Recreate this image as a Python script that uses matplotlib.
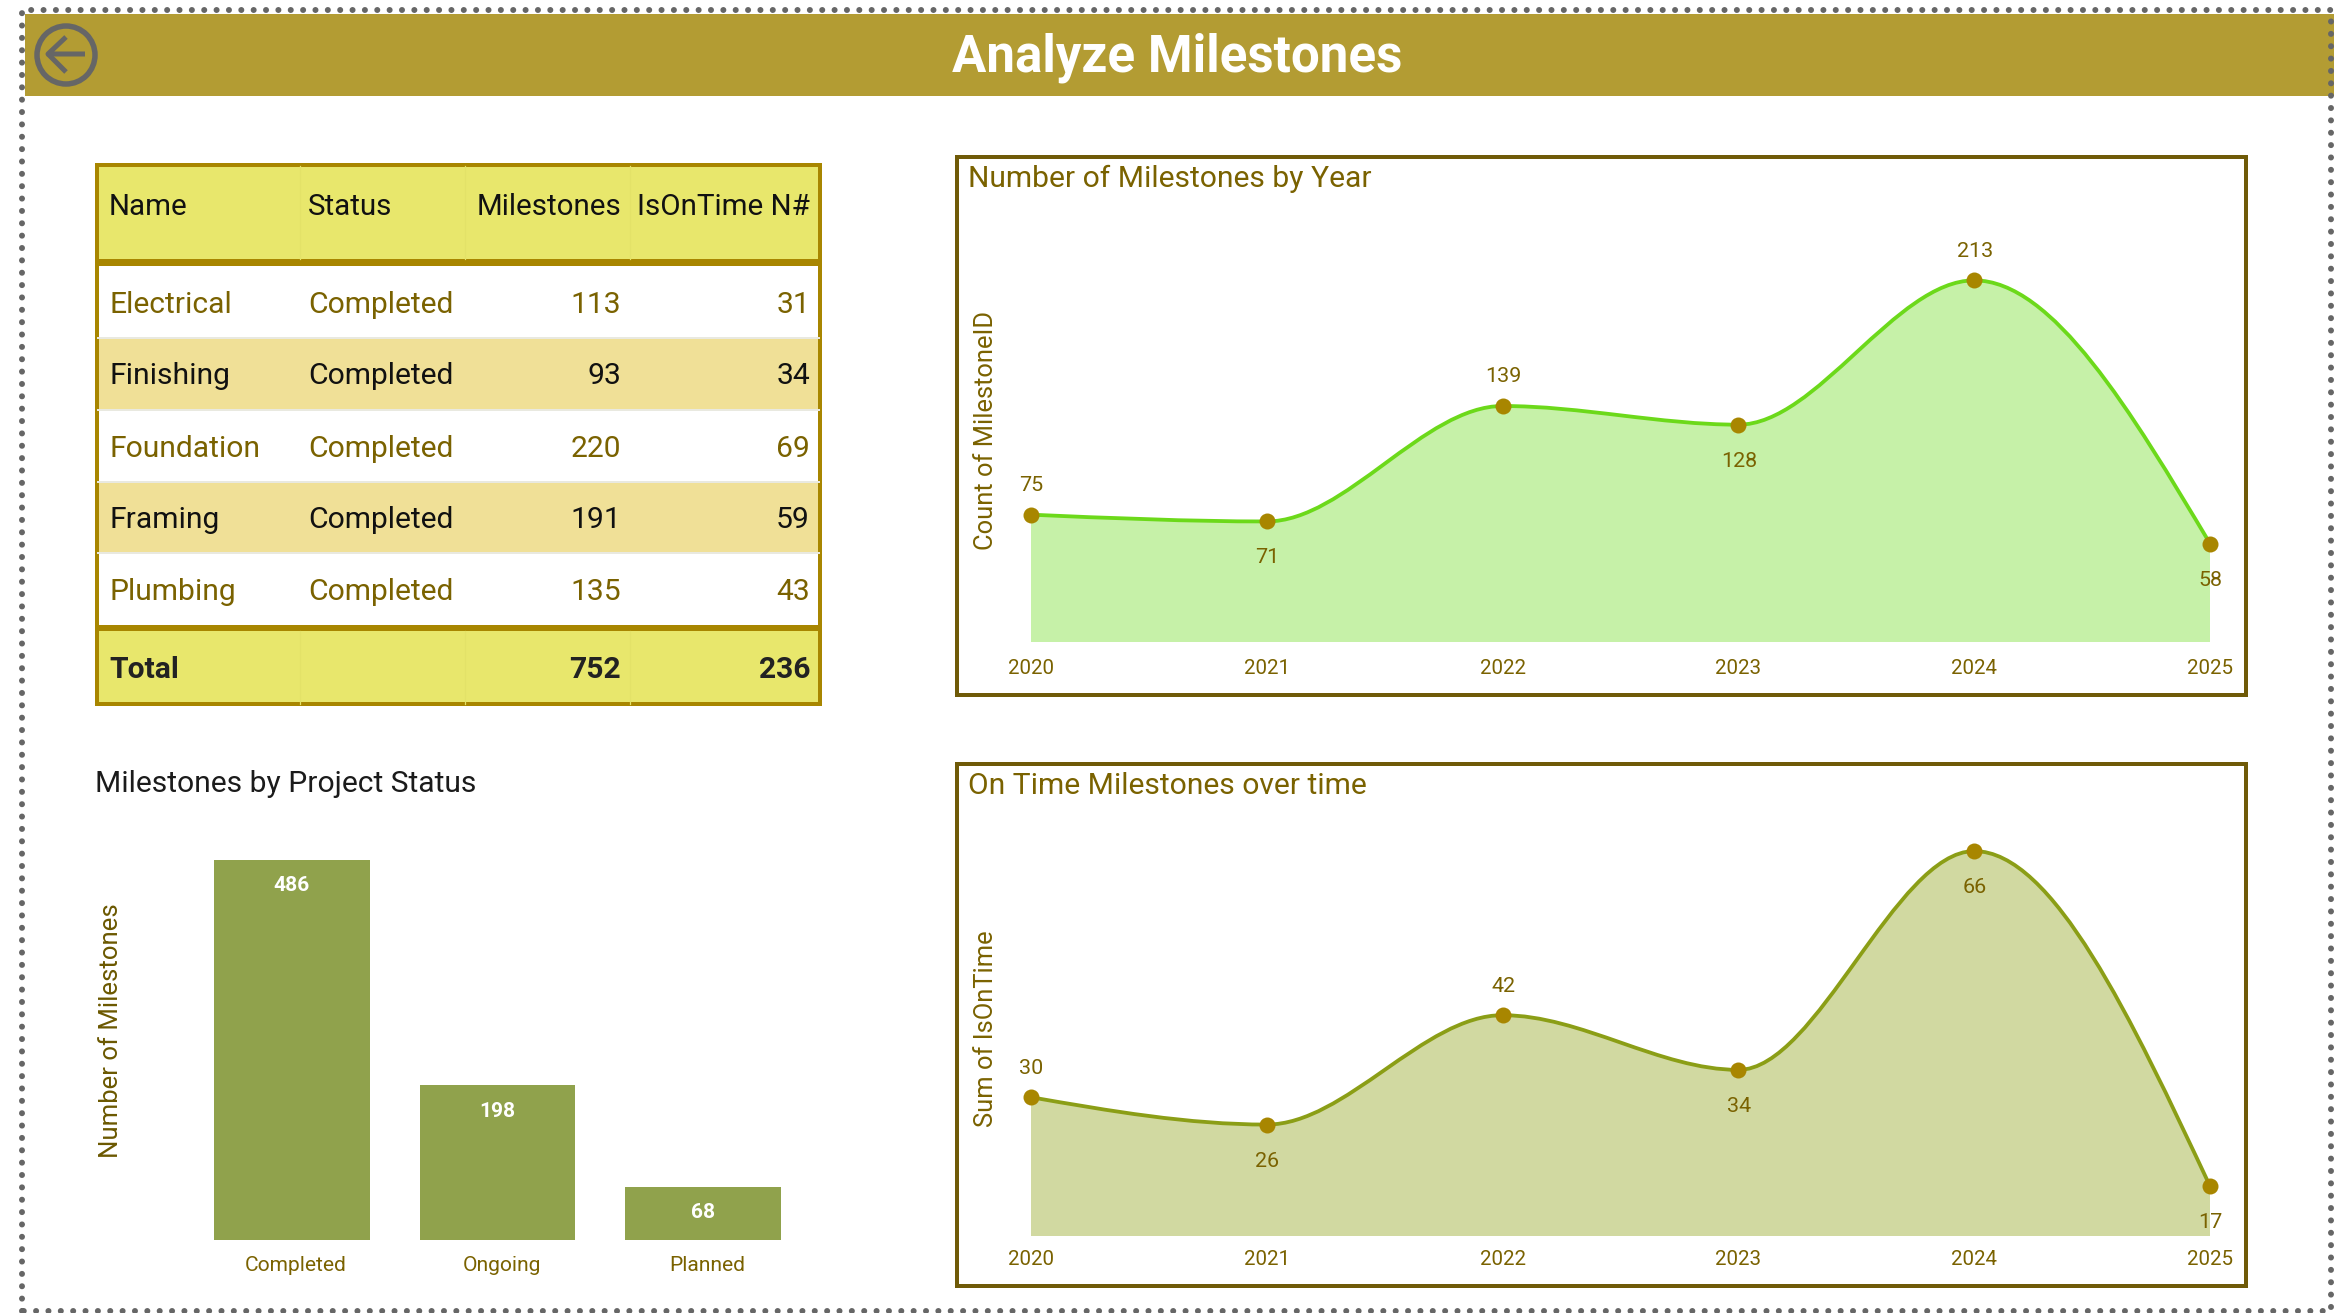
import numpy as np
import matplotlib
matplotlib.use('Agg')
import matplotlib.pyplot as plt
from matplotlib.patches import Rectangle, Circle, PathPatch
from matplotlib.path import Path
from matplotlib.transforms import ScaledTranslation

# data
years = [2020, 2021, 2022, 2023, 2024, 2025]
milestones_by_year = [75, 71, 139, 128, 213, 58]
year_label_side = [1, -1, 1, -1, 1, -1]
on_time_by_year = [30, 26, 42, 34, 66, 17]
on_time_label_side = [1, -1, 1, -1, -1, -1]

status_names = ['Completed', 'Ongoing', 'Planned']
status_counts = [486, 198, 68]

table_header = ['Name', 'Status', 'Milestones', 'IsOnTime N#']
table_names = ['Electrical', 'Finishing', 'Foundation', 'Framing', 'Plumbing']
table_status = ['Completed', 'Completed', 'Completed', 'Completed', 'Completed']
table_milestones = [113, 93, 220, 191, 135]
table_on_time = [31, 34, 69, 59, 43]
table_total = ['Total', '', '752', '236']

W, H = 2334, 1313
DPI = 100
FONT = 'Roboto'
OLIVE = '#7A6200'
GOLD = '#A88600'
GREY = '#666666'

plt.rcParams['font.family'] = [FONT, 'DejaVu Sans']


def px(v):
    # pixel size to points
    return v * 72 / DPI


def make_axes(x0, y0, x1, y1, **kw):
    # axes from pixel box, y measured from the top
    return fig.add_axes([x0 / W, 1 - y1 / H, (x1 - x0) / W, (y1 - y0) / H], **kw)


def smooth_path(xs, ys):
    # monotone cubic through the points, as beziers
    xs = np.asarray(xs, float)
    ys = np.asarray(ys, float)
    s = np.diff(ys) / np.diff(xs)
    t = np.zeros(len(xs))
    for i in range(1, len(xs) - 1):
        t[i] = (np.sign(s[i - 1]) + np.sign(s[i])) * min(abs(s[i - 1]), abs(s[i]), 0.5 * abs((s[i - 1] + s[i]) / 2))
    t[0] = (3 * s[0] - t[1]) / 2
    t[-1] = (3 * s[-1] - t[-2]) / 2
    verts = [(xs[0], ys[0])]
    codes = [Path.MOVETO]
    for i in range(len(xs) - 1):
        d = (xs[i + 1] - xs[i]) / 3
        verts += [(xs[i] + d, ys[i] + d * t[i]), (xs[i + 1] - d, ys[i + 1] - d * t[i + 1]), (xs[i + 1], ys[i + 1])]
        codes += [Path.CURVE4] * 3
    return verts, codes


def area_chart(box, ylim, values, sides, line_col, fill_col, tick_pad):
    ax = make_axes(*box)
    ax.set_xlim(years[0], years[-1])
    ax.set_ylim(*ylim)
    ax.patch.set_alpha(0)
    verts, codes = smooth_path(years, values)
    closed = verts + [(years[-1], ylim[0]), (years[0], ylim[0]), verts[0]]
    closed_codes = codes + [Path.LINETO, Path.LINETO, Path.CLOSEPOLY]
    ax.add_patch(PathPatch(Path(closed, closed_codes), fc=fill_col, ec='none', zorder=1))
    ax.add_patch(PathPatch(Path(verts, codes), fc='none', ec=line_col, lw=px(3.8), zorder=2))
    ax.plot(years, values, 'o', color=GOLD, ms=px(16), mew=0, zorder=3, clip_on=False)
    for x, v, side in zip(years, values, sides):
        off = 29 if side > 0 else -36.5
        ax.annotate(str(v), (x, v), xytext=(px(0.5), px(off)), textcoords='offset points',
                    ha='center', va='center', fontsize=px(21.5), color=OLIVE)
    ax.set_yticks([])
    ax.set_xticks(years)
    ax.set_xticklabels([str(y) for y in years], fontsize=px(20.5), color=OLIVE)
    ax.tick_params(axis='x', length=0, pad=px(tick_pad))
    for s in ax.spines.values():
        s.set_visible(False)
    return ax


fig = plt.figure(figsize=(W / DPI, H / DPI), dpi=DPI, facecolor='white')

# page layer in pixels: header, dotted edge, table, frames
bg = fig.add_axes([0, 0, 1, 1])
bg.set_xlim(0, W)
bg.set_ylim(H, 0)
bg.axis('off')

bg.add_patch(Rectangle((25, 14), W - 25, 82, fc='#B39C33', ec='none'))
dots = dict(color=GREY, lw=px(6), ls=(0, (0.01, 2.05)), dash_capstyle='round', zorder=5)
bg.plot([22, 22, 2331, 2331, 22], [1311, 10, 10, 1311, 1311], **dots)

bg.add_patch(Circle((66, 55), 29, fc='none', ec=GREY, lw=px(5.5)))
bg.plot([85, 48, 66], [54, 54, 37], color=GREY, lw=px(5), solid_capstyle='butt')
bg.plot([48, 66], [54, 72], color=GREY, lw=px(5), solid_capstyle='butt')
bg.text(1177, 58, 'Analyze Milestones', color='white', fontsize=px(51), fontweight='bold', ha='center', va='center')

# table
T_L, T_R = 98, 819
row_edges = [266, 337.5, 409.5, 482, 553, 625]
row_fill = ['white', '#F0E097', 'white', '#F0E097', 'white']
row_text = [OLIVE, '#111111', OLIVE, '#111111', OLIVE]
col_x = [109, 308, 621, 810]
col_ha = ['left', 'left', 'right', 'right']
dividers = [300, 465, 630]

bg.add_patch(Rectangle((T_L, 166), T_R - T_L, 94, fc='#E8E76C', ec='none'))
bg.add_patch(Rectangle((T_L, 631), T_R - T_L, 73, fc='#E8E76C', ec='none'))
for i in range(5):
    bg.add_patch(Rectangle((T_L, row_edges[i]), T_R - T_L, row_edges[i + 1] - row_edges[i], fc=row_fill[i], ec='none'))
    if i:
        bg.plot([T_L, T_R], [row_edges[i]] * 2, color='#E9E9E0', lw=px(2))
    row = [table_names[i], table_status[i], str(table_milestones[i]), str(table_on_time[i])]
    for txt, x, ha in zip(row, col_x, col_ha):
        bg.text(x, (row_edges[i] + row_edges[i + 1]) / 2 + 3, txt, color=row_text[i], fontsize=px(30), ha=ha, va='center')
for x in dividers:
    bg.plot([x, x], [166, 259], color='#E3E268', lw=px(1.2))
    bg.plot([x, x], [631, 704], color='#E3E268', lw=px(1.2))
bg.add_patch(Rectangle((T_L, 259), T_R - T_L, 7, fc=GOLD, ec='none'))
bg.add_patch(Rectangle((T_L, 625), T_R - T_L, 6, fc=GOLD, ec='none'))
bg.add_patch(Rectangle((T_L - 1, 165), T_R - T_L + 2, 539, fc='none', ec=GOLD, lw=px(4)))
for txt, x, ha in zip(table_header, col_x, col_ha):
    bg.text(x, 207, txt, color='#111111', fontsize=px(29.5), ha=ha, va='center')
for txt, x, ha in zip(table_total, col_x, col_ha):
    bg.text(x, 670, txt, color='#222222', fontsize=px(30), fontweight='bold', ha=ha, va='center')

# frames and titles for the two area charts
for y0, y1, title, ylabel, ymid in [(157, 695, 'Number of Milestones by Year', 'Count of MilestoneID', 430),
                                    (764, 1286, 'On Time Milestones over time', 'Sum of IsOnTime', 1029)]:
    bg.add_patch(Rectangle((957, y0), 1289, y1 - y0, fc='none', ec='#6F5A08', lw=px(4)))
    bg.text(968, y0 + 22, title, color=OLIVE, fontsize=px(30), ha='left', va='center')
    bg.text(986, ymid, ylabel, color=OLIVE, fontsize=px(25.5), rotation=90, ha='center', va='center')

area_chart((1031, 170, 2210, 642), (0, 278), milestones_by_year, year_label_side, '#6CD91A', '#C6F1A8', 17)
area_chart((1031, 780, 2210, 1236), (9.7, 76.4), on_time_by_year, on_time_label_side, '#8B9E16', '#D1D9A1', 14)

# bars
bar_ax = make_axes(189, 840, 806, 1240)
bar_ax.patch.set_alpha(0)
bar_pos = np.arange(len(status_names))
bar_ax.bar(bar_pos, status_counts, width=0.757, color='#90A24C')
for x, v in zip(bar_pos, status_counts):
    bar_ax.annotate(str(v), (x, v), xytext=(0, px(-26)), textcoords='offset points', ha='center', va='center',
                    color='white', fontsize=px(21), fontweight='bold')
bar_ax.set_xlim(-0.5, 2.5)
bar_ax.set_ylim(0, 511.5)
bar_ax.set_yticks([])
bar_ax.set_xticks(bar_pos)
bar_ax.set_xticklabels(status_names, fontsize=px(21), color=OLIVE)
bar_ax.tick_params(axis='x', length=0, pad=px(16))
for lbl in bar_ax.get_xticklabels():
    lbl.set_transform(lbl.get_transform() + ScaledTranslation(4 / DPI, 0, fig.dpi_scale_trans))
for s in bar_ax.spines.values():
    s.set_visible(False)
bg.text(95, 784, 'Milestones by Project Status', color='#1B1B1B', fontsize=px(30), ha='left', va='center')
bg.text(111, 1031, 'Number of Milestones', color='#6B5800', fontsize=px(25.8), rotation=90, ha='center', va='center')

plt.savefig('out.png', dpi=DPI)
